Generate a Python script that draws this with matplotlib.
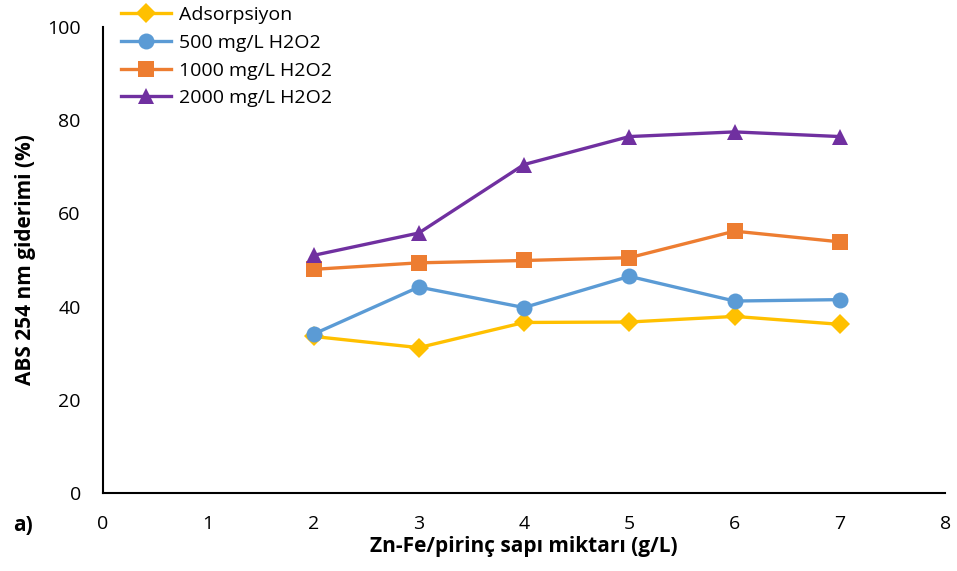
import matplotlib
matplotlib.use("Agg")
import matplotlib.pyplot as plt

x = [2, 3, 4, 5, 6, 7]
adsorpsiyon = [33.6, 31.2, 36.6, 36.7, 37.9, 36.2]
h2o2_500 = [34.1, 44.2, 39.8, 46.5, 41.2, 41.5]
h2o2_1000 = [48.0, 49.4, 49.9, 50.5, 56.2, 53.9]
h2o2_2000 = [51.0, 55.8, 70.5, 76.5, 77.5, 76.5]
labels = ["Adsorpsiyon", "500 mg/L H2O2", "1000 mg/L H2O2", "2000 mg/L H2O2"]
xticks = [0, 1, 2, 3, 4, 5, 6, 7, 8]
yticks = [0, 20, 40, 60, 80, 100]

plt.rcParams['font.family'] = ['Open Sans', 'DejaVu Sans']

fig = plt.figure(figsize=(9.57, 5.71), dpi=100)
ax = fig.add_axes([0.1076, 0.1366, 0.880, 0.816])

series = [
    (adsorpsiyon, '#FFC000', 'D', 10),
    (h2o2_500, '#5B9BD5', 'o', 11.5),
    (h2o2_1000, '#ED7D31', 's', 11),
    (h2o2_2000, '#7030A0', '^', 11.5),
]
handles = []
for (vals, c, m, ms), lab in zip(series, labels):
    h, = ax.plot(x, vals, color=c, marker=m, markersize=ms, linewidth=2.4,
                 label=lab, markeredgewidth=0)
    handles.append(h)

ax.set_xlim(0, 8)
ax.set_ylim(0, 100)
ax.set_xticks(xticks)
ax.set_yticks(yticks)
ax.tick_params(length=0, labelsize=14)
ax.tick_params(axis='x', pad=16)
ax.tick_params(axis='y', pad=16)
for s in ['top', 'right']:
    ax.spines[s].set_visible(False)
for s in ['left', 'bottom']:
    ax.spines[s].set_linewidth(1.5)
ax.set_xlabel("Zn-Fe/pirinç sapı miktarı (g/L)", fontsize=15, fontweight='bold', labelpad=2)
ax.set_ylabel("ABS 254 nm giderimi (%)", fontsize=15, fontweight='bold', labelpad=8)

fig.text(0.014, 0.07, "a)", fontsize=15, fontweight='bold')

fig.legend(handles=handles, loc='upper left', bbox_to_anchor=(0.118, 1.003),
           frameon=False, fontsize=14, handlelength=2.6, handletextpad=0.4,
           labelspacing=0.5, borderaxespad=0)

fig.savefig("out.png", dpi=100)
